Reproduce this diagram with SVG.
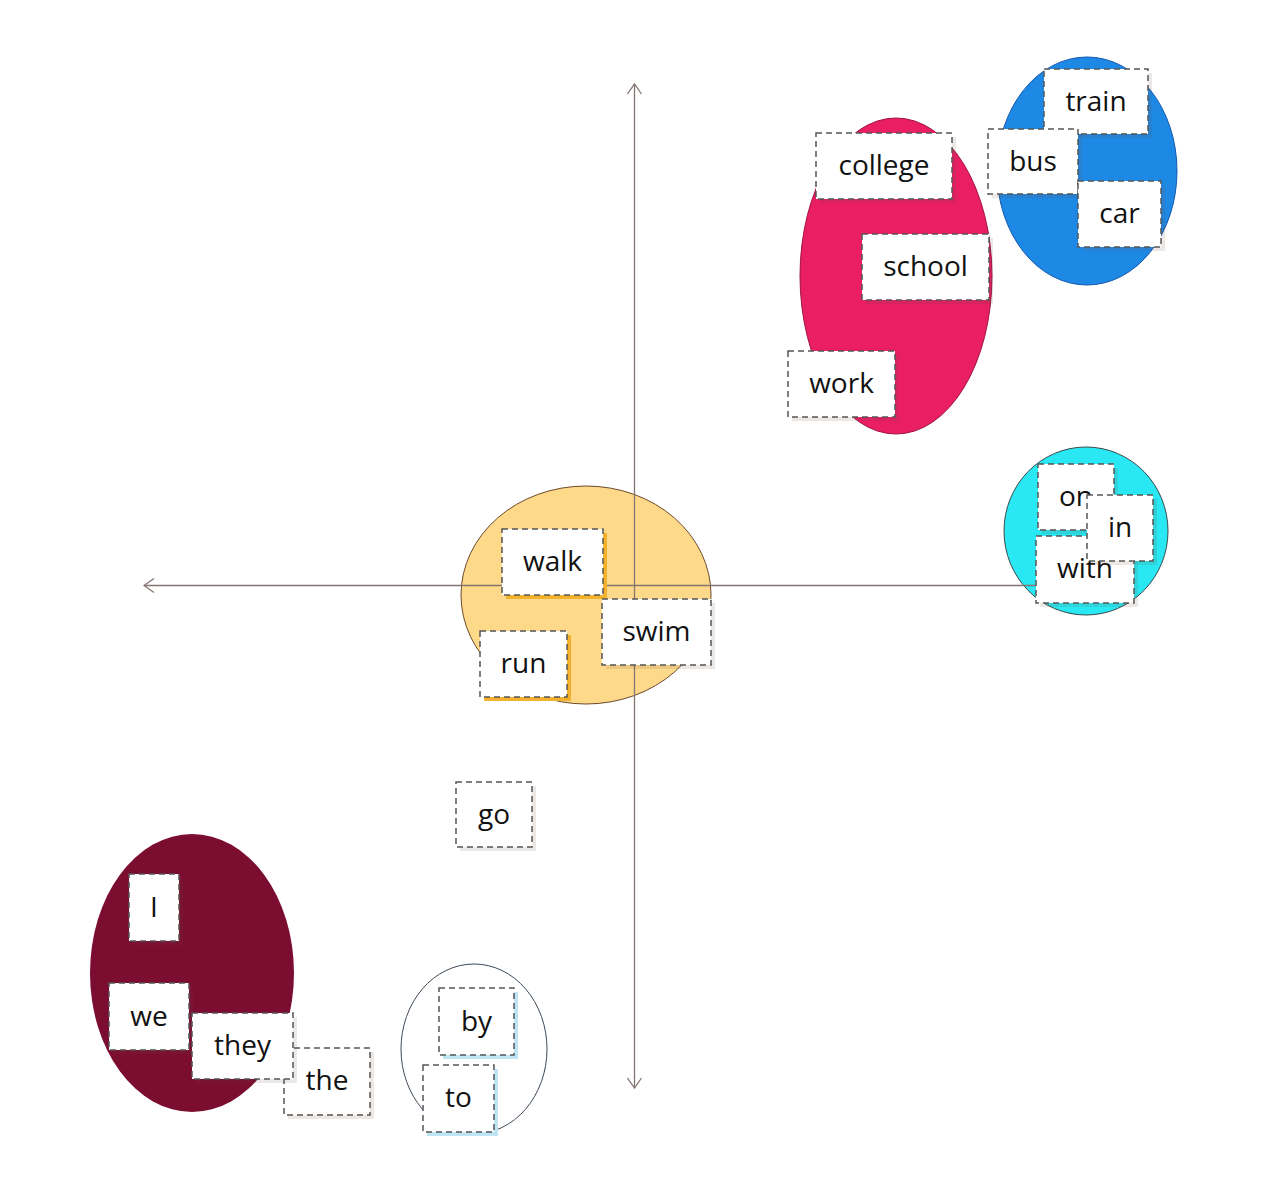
<svg xmlns="http://www.w3.org/2000/svg" width="1265" height="1200" viewBox="0 0 1265 1200">
<style>
.bg{fill:#ffffff}
.box{fill:#ffffff;stroke:#555555;stroke-width:1.5;stroke-dasharray:6 4}
.sh{fill:#6b4a3a;fill-opacity:0.13}
.sho{fill:#f2b22e}
.shb{fill:#bfe4f3}
.lbl{font-family:"Open Sans","Noto Sans","DejaVu Sans",sans-serif;font-size:28px;fill:#111111;text-anchor:middle}
.axis{stroke:#857572;stroke-width:1.3;fill:none}
</style>
<defs>
<marker id="arr" viewBox="0 0 12 16" refX="11" refY="8" markerWidth="12" markerHeight="16" markerUnits="userSpaceOnUse" orient="auto-start-reverse">
<path d="M1,1 L11,8 L1,15" fill="none" stroke="#857572" stroke-width="1.3"/>
</marker>
</defs>
<rect class="bg" x="0" y="0" width="1265" height="1200"/>

<g id="clusters">
<ellipse id="cluster-pink" cx="896" cy="276" rx="96" ry="158" fill="#E91E63" stroke="#a0123f" stroke-width="1"/>
<ellipse id="cluster-blue" cx="1087" cy="171" rx="90" ry="114" fill="#1E88E5" stroke="#1458b0" stroke-width="1"/>
<ellipse id="cluster-cyan" cx="1086" cy="531" rx="82" ry="84" fill="#29E7F3" stroke="#3a4a4a" stroke-width="1"/>
<ellipse id="cluster-yellow" cx="586" cy="595" rx="125" ry="109" fill="#FFD98A" stroke="#6b4a2a" stroke-width="1"/>
<ellipse id="cluster-maroon" cx="192" cy="973" rx="102" ry="139" fill="#7B0D31"/>
<ellipse id="cluster-white" cx="474" cy="1049" rx="73" ry="85" fill="#ffffff" stroke="#3c4a5a" stroke-width="1"/>
</g>

<g id="connectors">
<line class="axis" x1="1036" y1="585.5" x2="144" y2="585.5" marker-end="url(#arr)"/>
<line class="axis" x1="634.5" y1="84" x2="634.5" y2="1088" marker-start="url(#arr)" marker-end="url(#arr)"/>
</g>

<g id="node-train"><rect class="sh" x="1048" y="73" width="104" height="65"/><rect class="box" x="1044" y="69" width="104" height="65"/><text class="lbl" x="1096" y="111">train</text></g>
<g id="node-bus"><rect class="sh" x="992" y="133" width="90" height="65"/><rect class="box" x="988" y="129" width="90" height="65"/><text class="lbl" x="1033" y="171">bus</text></g>
<g id="node-car"><rect class="sh" x="1082" y="185" width="83" height="66"/><rect class="box" x="1078" y="181" width="83" height="66"/><text class="lbl" x="1119.5" y="223">car</text></g>
<g id="node-college"><rect class="sh" x="820" y="137" width="136" height="66"/><rect class="box" x="816" y="133" width="136" height="66"/><text class="lbl" x="884" y="175">college</text></g>
<g id="node-school"><rect class="sh" x="866" y="238" width="127" height="66"/><rect class="box" x="862" y="234" width="127" height="66"/><text class="lbl" x="925.5" y="276">school</text></g>
<g id="node-work"><rect class="sh" x="792" y="355" width="107" height="66"/><rect class="box" x="788" y="351" width="107" height="66"/><text class="lbl" x="841.5" y="393">work</text></g>

<g id="node-on"><rect class="sh" x="1042" y="468" width="76" height="66"/><rect class="box" x="1038" y="464" width="76" height="66"/><text class="lbl" x="1076" y="506">on</text></g>
<g id="node-with"><rect class="sh" x="1040" y="540" width="98" height="67"/><rect class="box" x="1036" y="536" width="98" height="67"/><text class="lbl" x="1085" y="578">with</text></g>
<g id="node-in"><rect class="sh" x="1091" y="499" width="66" height="66"/><rect class="box" x="1087" y="495" width="66" height="66"/><text class="lbl" x="1120" y="537">in</text></g>

<g id="node-walk"><rect class="sho" x="506" y="533" width="101" height="66"/><rect class="box" x="502" y="529" width="101" height="66"/><text class="lbl" x="552.5" y="571">walk</text></g>
<g id="node-swim"><rect class="sh" x="606" y="603" width="109" height="66"/><rect class="box" x="602" y="599" width="109" height="66"/><text class="lbl" x="656.5" y="641">swim</text></g>
<g id="node-run"><rect class="sho" x="484" y="635" width="87" height="66"/><rect class="box" x="480" y="631" width="87" height="66"/><text class="lbl" x="523.5" y="673">run</text></g>

<g id="node-go"><rect class="sh" x="460" y="786" width="76" height="65"/><rect class="box" x="456" y="782" width="76" height="65"/><text class="lbl" x="494" y="824">go</text></g>

<g id="node-I"><rect class="sh" x="133" y="878" width="50" height="67"/><rect class="box" x="129" y="874" width="50" height="67"/><text class="lbl" x="154" y="917">I</text></g>
<g id="node-we"><rect class="sh" x="113" y="987" width="80" height="67"/><rect class="box" x="109" y="983" width="80" height="67"/><text class="lbl" x="149" y="1026">we</text></g>
<g id="node-the"><rect class="sh" x="288" y="1052" width="86" height="67"/><rect class="box" x="284" y="1048" width="86" height="67"/><text class="lbl" x="327" y="1090">the</text></g>
<g id="node-they"><rect class="sh" x="196" y="1017" width="101" height="66"/><rect class="box" x="192" y="1013" width="101" height="66"/><text class="lbl" x="242.5" y="1055">they</text></g>

<g id="node-by"><rect class="shb" x="443" y="992" width="75" height="67"/><rect class="box" x="439" y="988" width="75" height="67"/><text class="lbl" x="476.5" y="1031">by</text></g>
<g id="node-to"><rect class="shb" x="427" y="1069" width="71" height="67"/><rect class="box" x="423" y="1065" width="71" height="67"/><text class="lbl" x="458.5" y="1107">to</text></g>
</svg>
